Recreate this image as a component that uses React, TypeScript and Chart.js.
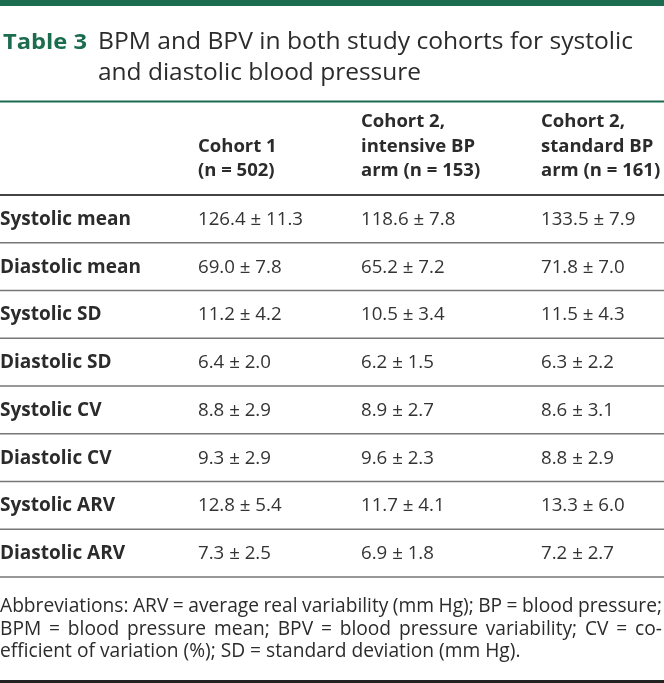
import React, { useEffect, useRef } from "react";
import { Chart, registerables } from "chart.js";

Chart.register(...registerables);

// ---------- data ----------
const TABLE_NUMBER = "Table 3";
const TITLE_LINES = [
  "BPM and BPV in both study cohorts for systolic",
  "and diastolic blood pressure",
];
const COLUMN_HEADERS = [
  ["Cohort 1", "(n = 502)"],
  ["Cohort 2,", "intensive BP", "arm (n = 153)"],
  ["Cohort 2,", "standard BP", "arm (n = 161)"],
];
const ROW_LABELS = [
  "Systolic mean",
  "Diastolic mean",
  "Systolic SD",
  "Diastolic SD",
  "Systolic CV",
  "Diastolic CV",
  "Systolic ARV",
  "Diastolic ARV",
];
const COHORT1_MEAN = [126.4, 69.0, 11.2, 6.4, 8.8, 9.3, 12.8, 7.3];
const COHORT1_SD = [11.3, 7.8, 4.2, 2.0, 2.9, 2.9, 5.4, 2.5];
const INTENSIVE_MEAN = [118.6, 65.2, 10.5, 6.2, 8.9, 9.6, 11.7, 6.9];
const INTENSIVE_SD = [7.8, 7.2, 3.4, 1.5, 2.7, 2.3, 4.1, 1.8];
const STANDARD_MEAN = [133.5, 71.8, 11.5, 6.3, 8.6, 8.8, 13.3, 7.2];
const STANDARD_SD = [7.9, 7.0, 4.3, 2.2, 3.1, 2.9, 6.0, 2.7];
const FOOTNOTE_LINES = [
  "Abbreviations: ARV = average real variability (mm Hg); BP = blood pressure;",
  "BPM = blood pressure mean; BPV = blood pressure variability; CV = co-",
  "efficient of variation (%); SD = standard deviation (mm Hg).",
];

// ---------- layout / style ----------
const W = 664;
const H = 683;
const GREEN = "#1c6d50";
const TEXT = "#2b2b2b";
const FONT = '"Open Sans", "Noto Sans", sans-serif';
const COL_X = [0, 198, 361, 541];
const TABLE_TOP = 195;
const TABLE_BOTTOM = 577;

const COLUMNS = [
  { mean: COHORT1_MEAN, sd: COHORT1_SD },
  { mean: INTENSIVE_MEAN, sd: INTENSIVE_SD },
  { mean: STANDARD_MEAN, sd: STANDARD_SD },
];

function fitText(ctx: CanvasRenderingContext2D, text: string, x: number, y: number, width?: number) {
  const natural = ctx.measureText(text).width;
  if (!width) {
    ctx.fillText(text, x, y);
    return;
  }
  ctx.save();
  ctx.translate(x, y);
  ctx.scale(width / natural, 1);
  ctx.fillText(text, 0, 0);
  ctx.restore();
}

function justify(ctx: CanvasRenderingContext2D, text: string, x: number, y: number, width: number) {
  const words = text.split(" ");
  const widths = words.map((w) => ctx.measureText(w).width);
  const natural = widths.reduce((a, b) => a + b, 0);
  const gap = (width - natural) / (words.length - 1);
  const space = ctx.measureText(" ").width;
  if (gap < space * 0.8) {
    fitText(ctx, text, x, y, width);
    return;
  }
  let cx = x;
  words.forEach((w, i) => {
    ctx.fillText(w, cx, y);
    cx += widths[i] + gap;
  });
}

const tablePlugin = {
  id: "tablePlugin",
  afterDraw(chart: any) {
    const ctx: CanvasRenderingContext2D = chart.ctx;
    const y = chart.scales.y;
    const x = chart.scales.x;
    const area = chart.chartArea;
    ctx.save();
    ctx.textAlign = "left";
    ctx.textBaseline = "alphabetic";

    // top green band
    ctx.fillStyle = GREEN;
    ctx.fillRect(0, 0, W, 6);

    // title
    ctx.font = `700 22px ${FONT}`;
    ctx.fillStyle = GREEN;
    fitText(ctx, TABLE_NUMBER, 3, 49, 84);
    ctx.font = `400 23px ${FONT}`;
    ctx.fillStyle = TEXT;
    fitText(ctx, TITLE_LINES[0], 98, 49, 535);
    fitText(ctx, TITLE_LINES[1], 98, 80, 323);

    // green rule below title
    ctx.fillStyle = GREEN;
    ctx.fillRect(0, 100.5, W, 2);

    // column headers (bottom aligned)
    ctx.font = `700 18.5px ${FONT}`;
    ctx.fillStyle = TEXT;
    COLUMN_HEADERS.forEach((lines, c) => {
      const hx = x.getPixelForValue(COL_X[c + 1]);
      const n = lines.length;
      lines.forEach((ln, i) => {
        ctx.fillText(ln, hx, 176 - (n - 1 - i) * 24.5);
      });
    });

    // header rule
    ctx.fillStyle = "#444";
    ctx.fillRect(0, area.top - 1, W, 2);

    // row rules
    const band = (area.bottom - area.top) / ROW_LABELS.length;
    ctx.fillStyle = "#777";
    ROW_LABELS.forEach((_, i) => {
      const yy = y.getPixelForValue(i) + band / 2;
      ctx.fillRect(0, yy - 0.75, W, 1.5);
    });

    // row labels
    ctx.font = `700 19px ${FONT}`;
    ctx.fillStyle = TEXT;
    ROW_LABELS.forEach((lab, i) => {
      ctx.fillText(lab, x.getPixelForValue(COL_X[0]), y.getPixelForValue(i) + 6);
    });

    // cells
    ctx.font = `400 18.7px ${FONT}`;
    ctx.fillStyle = "#333";
    chart.data.datasets.forEach((ds: any, c: number) => {
      const meta = chart.getDatasetMeta(c);
      meta.data.forEach((el: any, i: number) => {
        const col = COLUMNS[c];
        const txt = `${col.mean[i].toFixed(1)} ± ${col.sd[i].toFixed(1)}`;
        ctx.fillText(txt, el.x, el.y + 6);
      });
    });

    // footnote
    ctx.font = `400 19.2px ${FONT}`;
    ctx.fillStyle = TEXT;
    justify(ctx, FOOTNOTE_LINES[0], 0, 612, 662);
    justify(ctx, FOOTNOTE_LINES[1], 0, 634.5, 662);
    ctx.fillText(FOOTNOTE_LINES[2], 0, 657);

    // bottom rule
    ctx.fillStyle = "#222";
    ctx.fillRect(0, 680, W, 3);
    ctx.restore();
  },
};

export default function App() {
  const ref = useRef<HTMLCanvasElement | null>(null);
  useEffect(() => {
    if (!ref.current) return;
    const chart = new Chart(ref.current, {
      type: "scatter",
      data: {
        datasets: COLUMNS.map((col, c) => ({
          label: COLUMN_HEADERS[c].join(" "),
          data: ROW_LABELS.map((r, i) => ({ x: COL_X[c + 1], y: r as any })),
          pointRadius: 0,
          showLine: false,
        })),
      },
      options: {
        animation: false,
        responsive: true,
        maintainAspectRatio: false,
        events: [],
        layout: { padding: { top: TABLE_TOP, bottom: H - TABLE_BOTTOM, left: 0, right: 0 } },
        scales: {
          x: { type: "linear", min: 0, max: W, display: false },
          y: { type: "category", labels: ROW_LABELS, offset: true, display: false },
        },
        plugins: { legend: { display: false }, tooltip: { enabled: false }, title: { display: false } },
      },
      plugins: [tablePlugin],
    });
    return () => chart.destroy();
  }, []);
  return (
    <div style={{ position: "absolute", left: 0, top: 0, width: W, height: H, background: "#fff" }}>
      <canvas ref={ref} />
    </div>
  );
}
